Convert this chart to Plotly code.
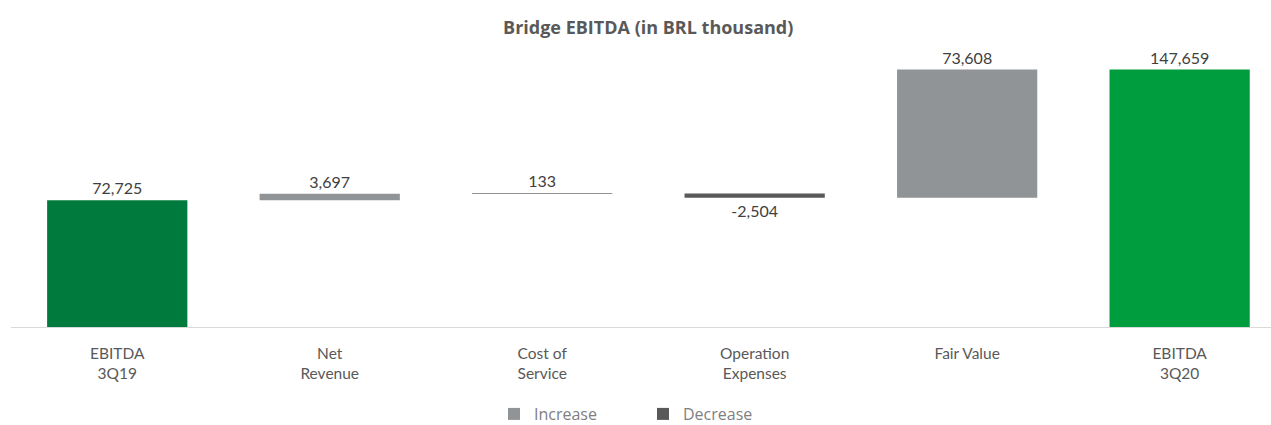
import plotly.graph_objects as go

categories = ["EBITDA<br>3Q19", "Net<br>Revenue", "Cost of<br>Service", "Operation<br>Expenses", "Fair Value", "EBITDA<br>3Q20"]
values = [72725, 3697, 133, -2504, 73608, 147659]
kinds = ["total", "delta", "delta", "delta", "delta", "total"]
total_colors = ["#007A3D", "#009D3E"]

inc_color = "#919496"
dec_color = "#595959"

# compute bases for floating bars
bases = []
running = 0
for v, k in zip(values, kinds):
    if k == "total":
        bases.append(0)
        running = v
    else:
        bases.append(running)
        running += v

def fmt(v):
    return f"{v:,}"

fig = go.Figure()

tot_idx = [i for i, k in enumerate(kinds) if k == "total"]
fig.add_trace(go.Bar(
    x=[categories[i] for i in tot_idx],
    y=[values[i] for i in tot_idx],
    base=[bases[i] for i in tot_idx],
    marker=dict(color=total_colors, line=dict(width=0)),
    text=[fmt(values[i]) for i in tot_idx],
    textposition="outside",
    showlegend=False,
    name="Total",
))

inc_idx = [i for i, k in enumerate(kinds) if k == "delta" and values[i] >= 0]
fig.add_trace(go.Bar(
    x=[categories[i] for i in inc_idx],
    y=[values[i] for i in inc_idx],
    base=[bases[i] for i in inc_idx],
    marker=dict(color=inc_color, line=dict(width=0)),
    text=[fmt(values[i]) for i in inc_idx],
    textposition="outside",
    name="Increase",
    legend="legend",
))

dec_idx = [i for i, k in enumerate(kinds) if k == "delta" and values[i] < 0]
fig.add_trace(go.Bar(
    x=[categories[i] for i in dec_idx],
    y=[values[i] for i in dec_idx],
    base=[bases[i] for i in dec_idx],
    marker=dict(color=dec_color, line=dict(width=0)),
    text=[fmt(values[i]) for i in dec_idx],
    textposition="outside",
    name="Decrease",
    legend="legend2",
))

fig.update_traces(width=0.66, cliponaxis=False,
                  textfont=dict(family="Lato", size=16, color="#404040"))

legend_common = dict(orientation="h", xref="container", yref="container",
                     xanchor="left", yanchor="top", y=1 - 397 / 425,
                     font=dict(family="Open Sans", size=16, color="#7F7F7F"),
                     itemwidth=30, bgcolor="rgba(0,0,0,0)")

fig.update_layout(
    width=1271, height=425,
    margin=dict(l=11, r=0, t=48, b=98),
    paper_bgcolor="white", plot_bgcolor="white",
    barmode="overlay",
    title=dict(text="<b>Bridge EBITDA (in BRL thousand)</b>", x=0.51, xanchor="center",
               y=0.935, yanchor="middle",
               font=dict(family="Open Sans", size=18, color="#595959")),
    xaxis=dict(categoryorder="array", categoryarray=categories,
               range=[-0.5, 5.43], showgrid=False, showline=True,
               linecolor="#D9D9D9", linewidth=1, ticks="",
               tickfont=dict(family="Lato", size=15.5, color="#595959"),
               ticklabelstandoff=12),
    yaxis=dict(range=[0, 160000], visible=False, showgrid=False, zeroline=False),
    legend=dict(x=494 / 1271, **legend_common),
    legend2=dict(x=643 / 1271, **legend_common),
    showlegend=True,
    font=dict(family="Lato"),
)

fig.write_html("out.html")
